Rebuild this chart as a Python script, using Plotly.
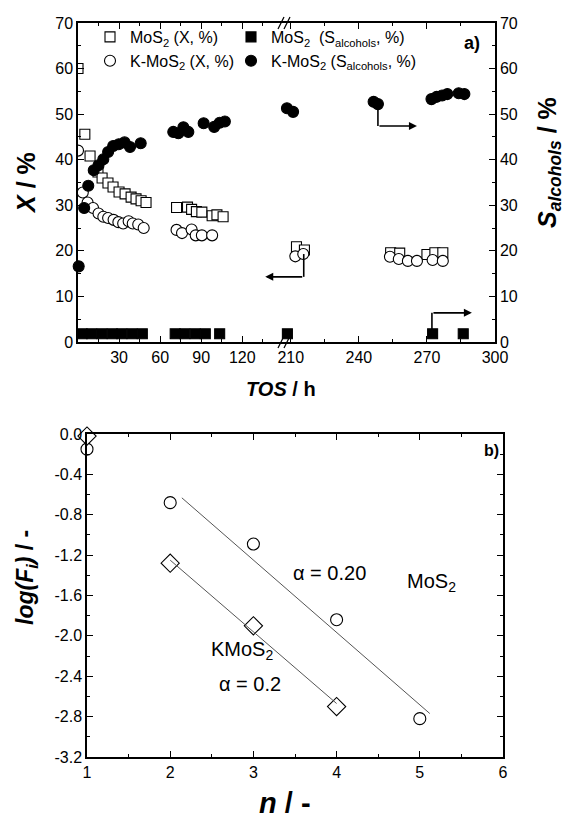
import plotly.graph_objects as go
import numpy as np

PAGE_W, PAGE_H = 571, 822
OFF = 0
FW, FH = PAGE_W - 2 * OFF, PAGE_H - 2 * OFF
FONT = "Liberation Sans"

# ---------------- Panel a data (TOS in h, values in %) ----------------
# left segment (0-150 h)
mos2_x_h_l = [0, 5, 8.8, 14.6, 17.6, 21.9, 25.6, 30, 34.4, 38.8, 42.4, 46.1, 49.7,
              72, 80, 83, 86.5, 90.5, 98, 101.5, 106]
mos2_x_v_l = [60, 45.6, 40.8, 37.3, 36, 34.9, 34, 32.9, 32.5, 31.8, 31.4, 31, 30.6,
              29.5, 29.6, 29.1, 28.6, 28.5, 27.7, 27.9, 27.5]
kmos2_x_h_l = [0, 3.5, 7, 11, 15, 18.5, 22, 26, 29.5, 33, 37, 40, 44, 48,
               72, 76, 83, 86, 90.5, 98]
kmos2_x_v_l = [42, 32.8, 30.6, 29.4, 28.2, 27.5, 27.2, 26.8, 26.3, 26, 26.5, 26, 25.8, 25,
               24.6, 23.9, 24.7, 23.4, 23.4, 23.4]
mos2_s_h_l = [3, 10, 17.5, 25, 32, 39.5, 47, 71, 78, 85.6, 93, 103.5]
mos2_s_v_l = [1.8, 1.8, 1.8, 1.8, 1.8, 1.8, 1.8, 1.8, 1.8, 1.8, 1.8, 1.8]
kmos2_s_h_l = [0.5, 4.5, 7.5, 11.5, 15, 18.5, 22, 25.7, 29.8, 34, 38, 45.8,
               69.6, 73.3, 77, 80.6, 91.8, 99.5, 103.5, 107.3]
kmos2_s_v_l = [16.6, 29.4, 34.3, 37.7, 38.8, 40.1, 41.7, 43, 43.4, 43.8, 42.8, 43.6,
               46.1, 45.8, 47.1, 46.1, 48, 47.2, 48.1, 48.4]
# right segment (207-300 h)
mos2_x_h_r = [212.5, 216, 254, 258, 270, 273.5, 277]
mos2_x_v_r = [20.9, 20.2, 19.6, 19.5, 19.2, 19.6, 19.6]
kmos2_x_h_r = [212, 215.5, 253.7, 257.6, 261.6, 265.6, 272.5, 277]
kmos2_x_v_r = [18.8, 19.3, 18.7, 18.2, 17.8, 17.8, 18, 17.8]
mos2_s_h_r = [208.5, 272.5, 286]
mos2_s_v_r = [1.8, 1.8, 1.8]
kmos2_s_h_r = [208.3, 211, 246.5, 248.4, 272, 274.3, 276.7, 279, 284, 286.5]
kmos2_s_v_r = [51.3, 50.5, 52.7, 52.2, 53.3, 53.8, 54.1, 54.4, 54.6, 54.4]

xl_ticks = [30, 60, 90, 120]
xr_ticks = [210, 240, 270, 300]

# ---------------- Panel b data ----------------
n_mos2 = [1, 2, 3, 4, 5]
logF_mos2 = [-0.15, -0.68, -1.09, -1.84, -2.82]
n_kmos2 = [1, 2, 3, 4]
logF_kmos2 = [-0.02, -1.28, -1.9, -2.7]
yb_ticks = [0.0, -0.4, -0.8, -1.2, -1.6, -2.0, -2.4, -2.8, -3.2]


# ---------------- geometry (page pixels -> paper fractions) ----------------
def px(xp):
    return (xp - OFF) / FW


def py(yp):
    return 1 - (yp - OFF) / FH


XL_RANGE = [0, 150.5]
XR_RANGE = [207, 300]
XL_DOM = [px(78), px(284)]
XR_DOM = [px(284), px(495)]
YA_DOM = [py(342), py(23)]
YA_RANGE = [0, 70]
XB_DOM = [px(87), px(503)]
YB_DOM = [py(757), py(434)]


def xl_paper(h):
    return XL_DOM[0] + (h - XL_RANGE[0]) / (XL_RANGE[1] - XL_RANGE[0]) * (XL_DOM[1] - XL_DOM[0])


def xr_paper(h):
    return XR_DOM[0] + (h - XR_RANGE[0]) / (XR_RANGE[1] - XR_RANGE[0]) * (XR_DOM[1] - XR_DOM[0])


def ya_paper(v):
    return YA_DOM[0] + (v - YA_RANGE[0]) / (YA_RANGE[1] - YA_RANGE[0]) * (YA_DOM[1] - YA_DOM[0])


fig = go.Figure()


def add(x, y, xa, ya, name, symbol, fill, group, show, leg, size, clip):
    fig.add_trace(go.Scatter(
        x=x, y=y, xaxis=xa, yaxis=ya, mode="markers", name=name,
        legendgroup=group, showlegend=show, legend=leg, cliponaxis=clip,
        marker=dict(symbol=symbol, size=size, color=fill,
                    line=dict(color="black", width=1.1))))


n1 = "MoS<sub>2</sub> (X, %)"
n2 = "MoS<sub>2</sub>  (S<sub>alcohols</sub>, %)"
n3 = "K-MoS<sub>2</sub> (X, %)"
n4 = "K-MoS<sub>2</sub> (S<sub>alcohols</sub>, %)"

add(mos2_x_h_l, mos2_x_v_l, "x", "y", n1, "square", "white", "g1", True, "legend", 10, True)
add(mos2_x_h_r, mos2_x_v_r, "x2", "y2", n1, "square", "white", "g1", False, "legend", 10, True)
add(kmos2_x_h_l, kmos2_x_v_l, "x", "y", n3, "circle", "white", "g3", True, "legend", 11, True)
add(kmos2_x_h_r, kmos2_x_v_r, "x2", "y2", n3, "circle", "white", "g3", False, "legend", 11, True)
add(mos2_s_h_l, mos2_s_v_l, "x", "y", n2, "square", "black", "g2", True, "legend2", 10, False)
add(mos2_s_h_r, mos2_s_v_r, "x2", "y2", n2, "square", "black", "g2", False, "legend2", 10, False)
add(kmos2_s_h_l, kmos2_s_v_l, "x", "y", n4, "circle", "black", "g4", True, "legend2", 11, False)
add(kmos2_s_h_r, kmos2_s_v_r, "x2", "y2", n4, "circle", "black", "g4", False, "legend2", 11, False)

# Panel b: points and linear fits (n >= 2)
fig.add_trace(go.Scatter(x=n_mos2, y=logF_mos2, xaxis="x3", yaxis="y3", mode="markers",
                         showlegend=False, cliponaxis=False,
                         marker=dict(symbol="circle", size=12, color="white",
                                     line=dict(color="black", width=1.1))))
fig.add_trace(go.Scatter(x=n_kmos2, y=logF_kmos2, xaxis="x3", yaxis="y3", mode="markers",
                         showlegend=False, cliponaxis=False,
                         marker=dict(symbol="diamond", size=14, color="white",
                                     line=dict(color="black", width=1.1))))
pm = np.polyfit(n_mos2[1:], logF_mos2[1:], 1)
pk = np.polyfit(n_kmos2[1:], logF_kmos2[1:], 1)
xm = np.array([2.14, 5.12])
xk = np.array([2.0, 4.0])
fig.add_trace(go.Scatter(x=xm, y=np.polyval(pm, xm), xaxis="x3", yaxis="y3", mode="lines",
                         showlegend=False, line=dict(color="#555", width=1)))
fig.add_trace(go.Scatter(x=xk, y=np.polyval(pk, xk), xaxis="x3", yaxis="y3", mode="lines",
                         showlegend=False, line=dict(color="#555", width=1)))

tickfont = dict(family=FONT, size=16, color="black")
common = dict(showline=True, linecolor="black", linewidth=1.5, ticks="inside", ticklen=6,
              tickwidth=1.3, tickcolor="black", showgrid=False, zeroline=False,
              tickfont=tickfont, automargin=False)
minor_common = dict(ticks="inside", ticklen=3, tickwidth=1.2, tickcolor="black", showgrid=False)
legfont = dict(family=FONT, size=16, color="black")

fig.update_layout(
    width=FW, height=FH, margin=dict(l=0, r=0, t=0, b=0, autoexpand=False),
    plot_bgcolor="white", paper_bgcolor="white",
    font=dict(family=FONT, color="black"),
    xaxis=dict(domain=XL_DOM, range=XL_RANGE, anchor="y", tickvals=xl_ticks, mirror="ticks",
               minor=dict(tickvals=[15, 45, 75, 105, 135], **minor_common), **common),
    xaxis2=dict(domain=XR_DOM, range=XR_RANGE, anchor="y2", tickvals=xr_ticks, mirror="ticks",
                minor=dict(tickvals=[225, 255, 285], **minor_common), **common),
    yaxis=dict(domain=YA_DOM, range=YA_RANGE, anchor="x", dtick=10, side="left",
               minor=dict(dtick=5, **minor_common), **common),
    yaxis2=dict(domain=YA_DOM, range=YA_RANGE, anchor="x2", dtick=10, side="right",
                minor=dict(dtick=5, **minor_common), **common),
    xaxis3=dict(domain=XB_DOM, range=[1, 6], anchor="y3", dtick=1, mirror="ticks",
                minor=dict(dtick=0.5, **minor_common), **common),
    yaxis3=dict(domain=YB_DOM, range=[-3.2, 0], anchor="x3", tickvals=yb_ticks,
                ticktext=[f"{v:.1f}" for v in yb_ticks], mirror="ticks",
                minor=dict(tickvals=[round(-0.2 - 0.4 * i, 1) for i in range(8)], **minor_common),
                **common),
    legend=dict(orientation="v", x=px(90), y=py(20), xanchor="left", yanchor="top",
                bgcolor="rgba(0,0,0,0)", font=legfont, tracegroupgap=0, itemsizing="trace"),
    legend2=dict(orientation="v", x=px(231), y=py(20), xanchor="left", yanchor="top",
                 bgcolor="rgba(0,0,0,0)", font=legfont, tracegroupgap=0, itemsizing="trace"),
)

ann = []


def title(xp, yp, text, size, angle=0):
    ann.append(dict(x=px(xp), y=py(yp), xref="paper", yref="paper", xanchor="center",
                    yanchor="middle", textangle=angle, showarrow=False, text=text,
                    font=dict(family=FONT, size=size, color="black")))


# axis titles
title(26, 183, "<b><i>X</i> / %</b>", 25, -90)
title(549, 163, "<b><i>S<sub>alcohols</sub></i> / %</b>", 25, -90)
title(281, 389, "<b><i>TOS</i> / h</b>", 20)
title(26, 578, "<b><i>log(F<sub>i</sub>)</i> / -</b>", 23, -90)
title(285, 803, "<b><i>n</i> / -</b>", 29)
# panel labels
title(472, 43, "<b>a)</b>", 18)
title(491, 450, "<b>b)</b>", 16)

# panel b texts
tf = dict(family=FONT, size=20, color="black")
ann.append(dict(x=3.92, y=-1.38, xref="x3", yref="y3", xanchor="center", yanchor="middle",
                showarrow=False, text="α = 0.20", font=tf))
ann.append(dict(x=4.82, y=-1.47, xref="x3", yref="y3", xanchor="left", yanchor="middle",
                showarrow=False, text="MoS<sub>2</sub>", font=tf))
ann.append(dict(x=2.47, y=-2.14, xref="x3", yref="y3", xanchor="left", yanchor="middle",
                showarrow=False, text="KMoS<sub>2</sub>", font=tf))
ann.append(dict(x=2.96, y=-2.48, xref="x3", yref="y3", xanchor="center", yanchor="middle",
                showarrow=False, text="α = 0.2", font=tf))

# arrows in panel a
arrow = dict(showarrow=True, arrowhead=2, arrowsize=1, arrowwidth=1.6, arrowcolor="black", text="")
# K-MoS2 selectivity -> right axis
ann.append(dict(x=265.6, y=47.4, ax=248.4, ay=47.4, xref="x2", yref="y2", axref="x2", ayref="y2", **arrow))
# MoS2 selectivity -> right axis
ann.append(dict(x=289.8, y=6.4, ax=272.2, ay=6.4, xref="x2", yref="y2", axref="x2", ayref="y2", **arrow))
# conversion -> left axis (crosses the break): tail offset in pixels
ann.append(dict(x=xl_paper(136.8), y=ya_paper(14.3),
                ax=(xr_paper(215.7) - xl_paper(136.8)) * FW, ay=0,
                xref="paper", yref="paper", axref="pixel", ayref="pixel", **arrow))

shapes = []
line_style = dict(color="black", width=1.6)
shapes.append(dict(type="line", xref="x2", yref="y2", x0=248.4, x1=248.4, y0=52.0, y1=47.4, line=line_style))
shapes.append(dict(type="line", xref="x2", yref="y2", x0=272.2, x1=272.2, y0=1.8, y1=6.4, line=line_style))
shapes.append(dict(type="line", xref="x2", yref="y2", x0=215.7, x1=215.7, y0=19.3, y1=14.3, line=line_style))

# axis break marks "//" on top and bottom axes
for by in (23, 342):
    bx = 284
    for k in (-3, 3):
        shapes.append(dict(type="line", xref="paper", yref="paper",
                           x0=px(bx + k - 3), y0=py(by + 6), x1=px(bx + k + 3), y1=py(by - 6),
                           line=dict(color="black", width=1.2)))

fig.update_layout(annotations=ann, shapes=shapes)
fig.write_html("out.html")
